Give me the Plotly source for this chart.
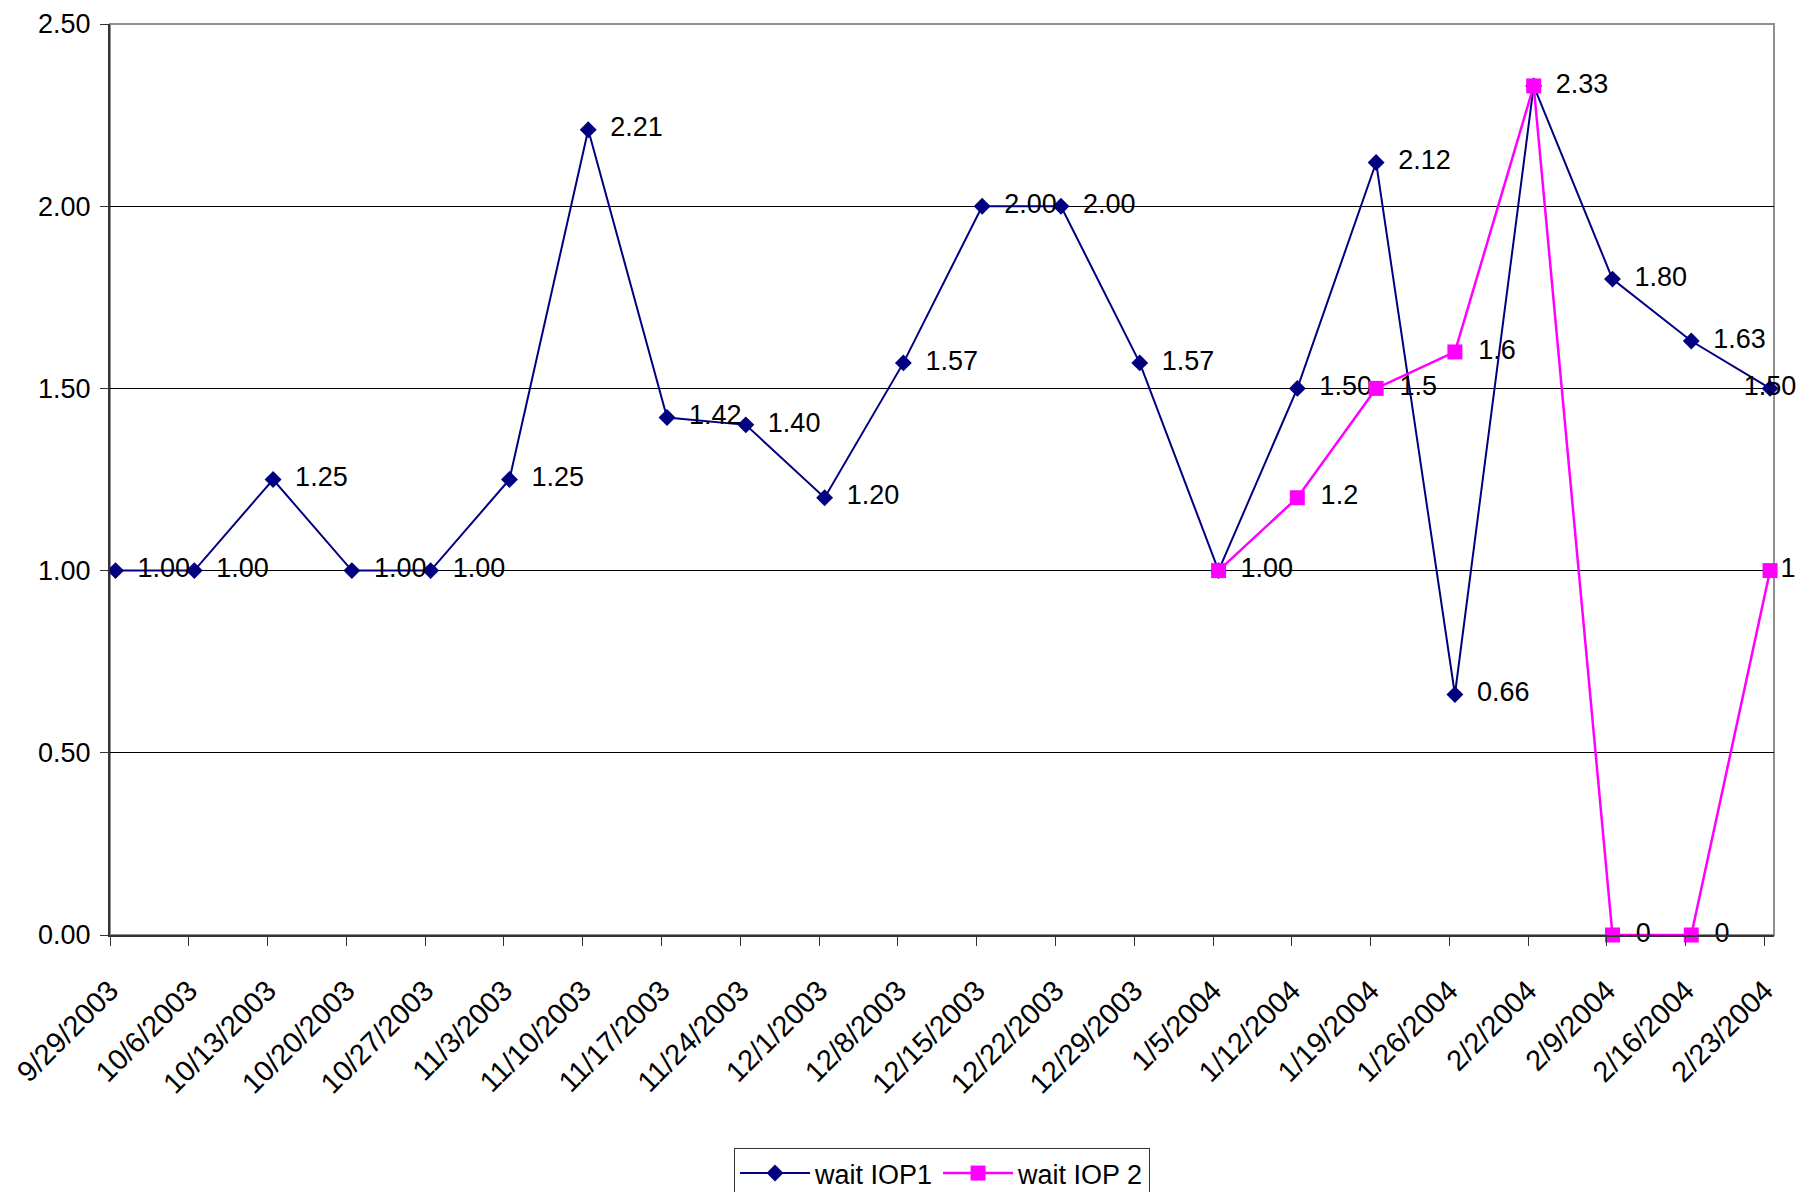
import plotly.graph_objects as go

dates = ["9/29/2003", "10/6/2003", "10/13/2003", "10/20/2003", "10/27/2003", "11/3/2003",
         "11/10/2003", "11/17/2003", "11/24/2003", "12/1/2003", "12/8/2003", "12/15/2003",
         "12/22/2003", "12/29/2003", "1/5/2004", "1/12/2004", "1/19/2004", "1/26/2004",
         "2/2/2004", "2/9/2004", "2/16/2004", "2/23/2004"]
wait_iop1 = [1.00, 1.00, 1.25, 1.00, 1.00, 1.25, 2.21, 1.42, 1.40, 1.20, 1.57, 2.00,
             2.00, 1.57, 1.00, 1.50, 2.12, 0.66, 2.33, 1.80, 1.63, 1.50]
wait_iop2 = [None] * 14 + [1, 1.2, 1.5, 1.6, 2.33, 0, 0, 1]
y_ticks = [0, 0.5, 1.0, 1.5, 2.0, 2.5]

n = len(dates)
idx = list(range(n))
TICK_OFF = 0.07
PAD = "\u00a0\u2009"

def general(v):
    return ("%.2f" % v).rstrip("0").rstrip(".")

FONT = "Liberation Sans, Arial, sans-serif"

# IOP1 labels: the last one is pulled back inside the chart (as the original does)
text1 = [(PAD if i < n - 1 else "") + "%.2f" % v for i, v in enumerate(wait_iop1)]
pos1 = ["middle right"] * (n - 1) + ["middle center"]

# IOP2 labels: hidden where they coincide with the IOP1 label at the same point
text2 = []
for i, v in enumerate(wait_iop2):
    if v is None or abs(v - wait_iop1[i]) < 1e-9:
        text2.append("")
    else:
        text2.append((PAD if i < n - 1 else "") + general(v))

fig = go.Figure()
fig.add_trace(go.Scatter(
    x=idx, y=wait_iop1, name="wait IOP1",
    mode="lines+markers+text",
    text=text1, textposition=pos1,
    textfont=dict(family=FONT, size=27, color="black"),
    line=dict(color="#000080", width=2),
    marker=dict(symbol="diamond", size=13, color="#000080"),
    cliponaxis=False,
))
fig.add_trace(go.Scatter(
    x=idx, y=wait_iop2, name="wait IOP 2",
    mode="lines+markers+text",
    text=text2, textposition="middle right",
    textfont=dict(family=FONT, size=27, color="black"),
    line=dict(color="#FF00FF", width=2.5),
    marker=dict(symbol="square", size=15, color="#FF00FF"),
    cliponaxis=False,
))

fig.add_shape(type="rect", xref="x domain", yref="y domain", x0=0, x1=1, y0=0, y1=1,
              line=dict(color="#909090", width=2), layer="below")

fig.add_annotation(text="<b>Statistical Summary</b>", xref="paper", yref="paper",
                   x=0.78, y=-0.2735, xanchor="left", yanchor="top", showarrow=False,
                   font=dict(family=FONT, size=38, color="black"))

fig.update_layout(
    width=1797, height=1192,
    margin=dict(l=110, r=23, t=24, b=257, autoexpand=False),
    paper_bgcolor="white", plot_bgcolor="white",
    font=dict(family=FONT, size=27, color="black"),
    showlegend=True,
    legend=dict(orientation="h", x=0.5, xanchor="center", y=-0.2338, yanchor="top",
                bordercolor="#333333", borderwidth=1, bgcolor="white",
                font=dict(family=FONT, size=27, color="black"), itemwidth=70),
    xaxis=dict(range=[-TICK_OFF, n - 1 + 0.05],
               tickvals=[i - TICK_OFF for i in idx], ticktext=dates,
               tickangle=-45, ticks="outside", ticklen=9, tickwidth=1, tickcolor="#333333",
               showline=True, linecolor="#333333", linewidth=2,
               showgrid=False, zeroline=False, ticklabelstandoff=16,
               tickfont=dict(family=FONT, size=29, color="black")),
    yaxis=dict(range=[0, 2.5], tickvals=y_ticks, tickformat=".2f",
               ticks="outside", ticklen=8, tickwidth=1, tickcolor="#333333",
               showline=True, linecolor="#333333", linewidth=2,
               showgrid=True, gridcolor="#000000", gridwidth=1, zeroline=False,
               tickfont=dict(family=FONT, size=27, color="black"), ticklabelstandoff=4),
)

fig.write_html("out.html", config={"displayModeBar": False},
               post_script="document.body.style.margin='0';document.body.style.overflow='hidden';")
